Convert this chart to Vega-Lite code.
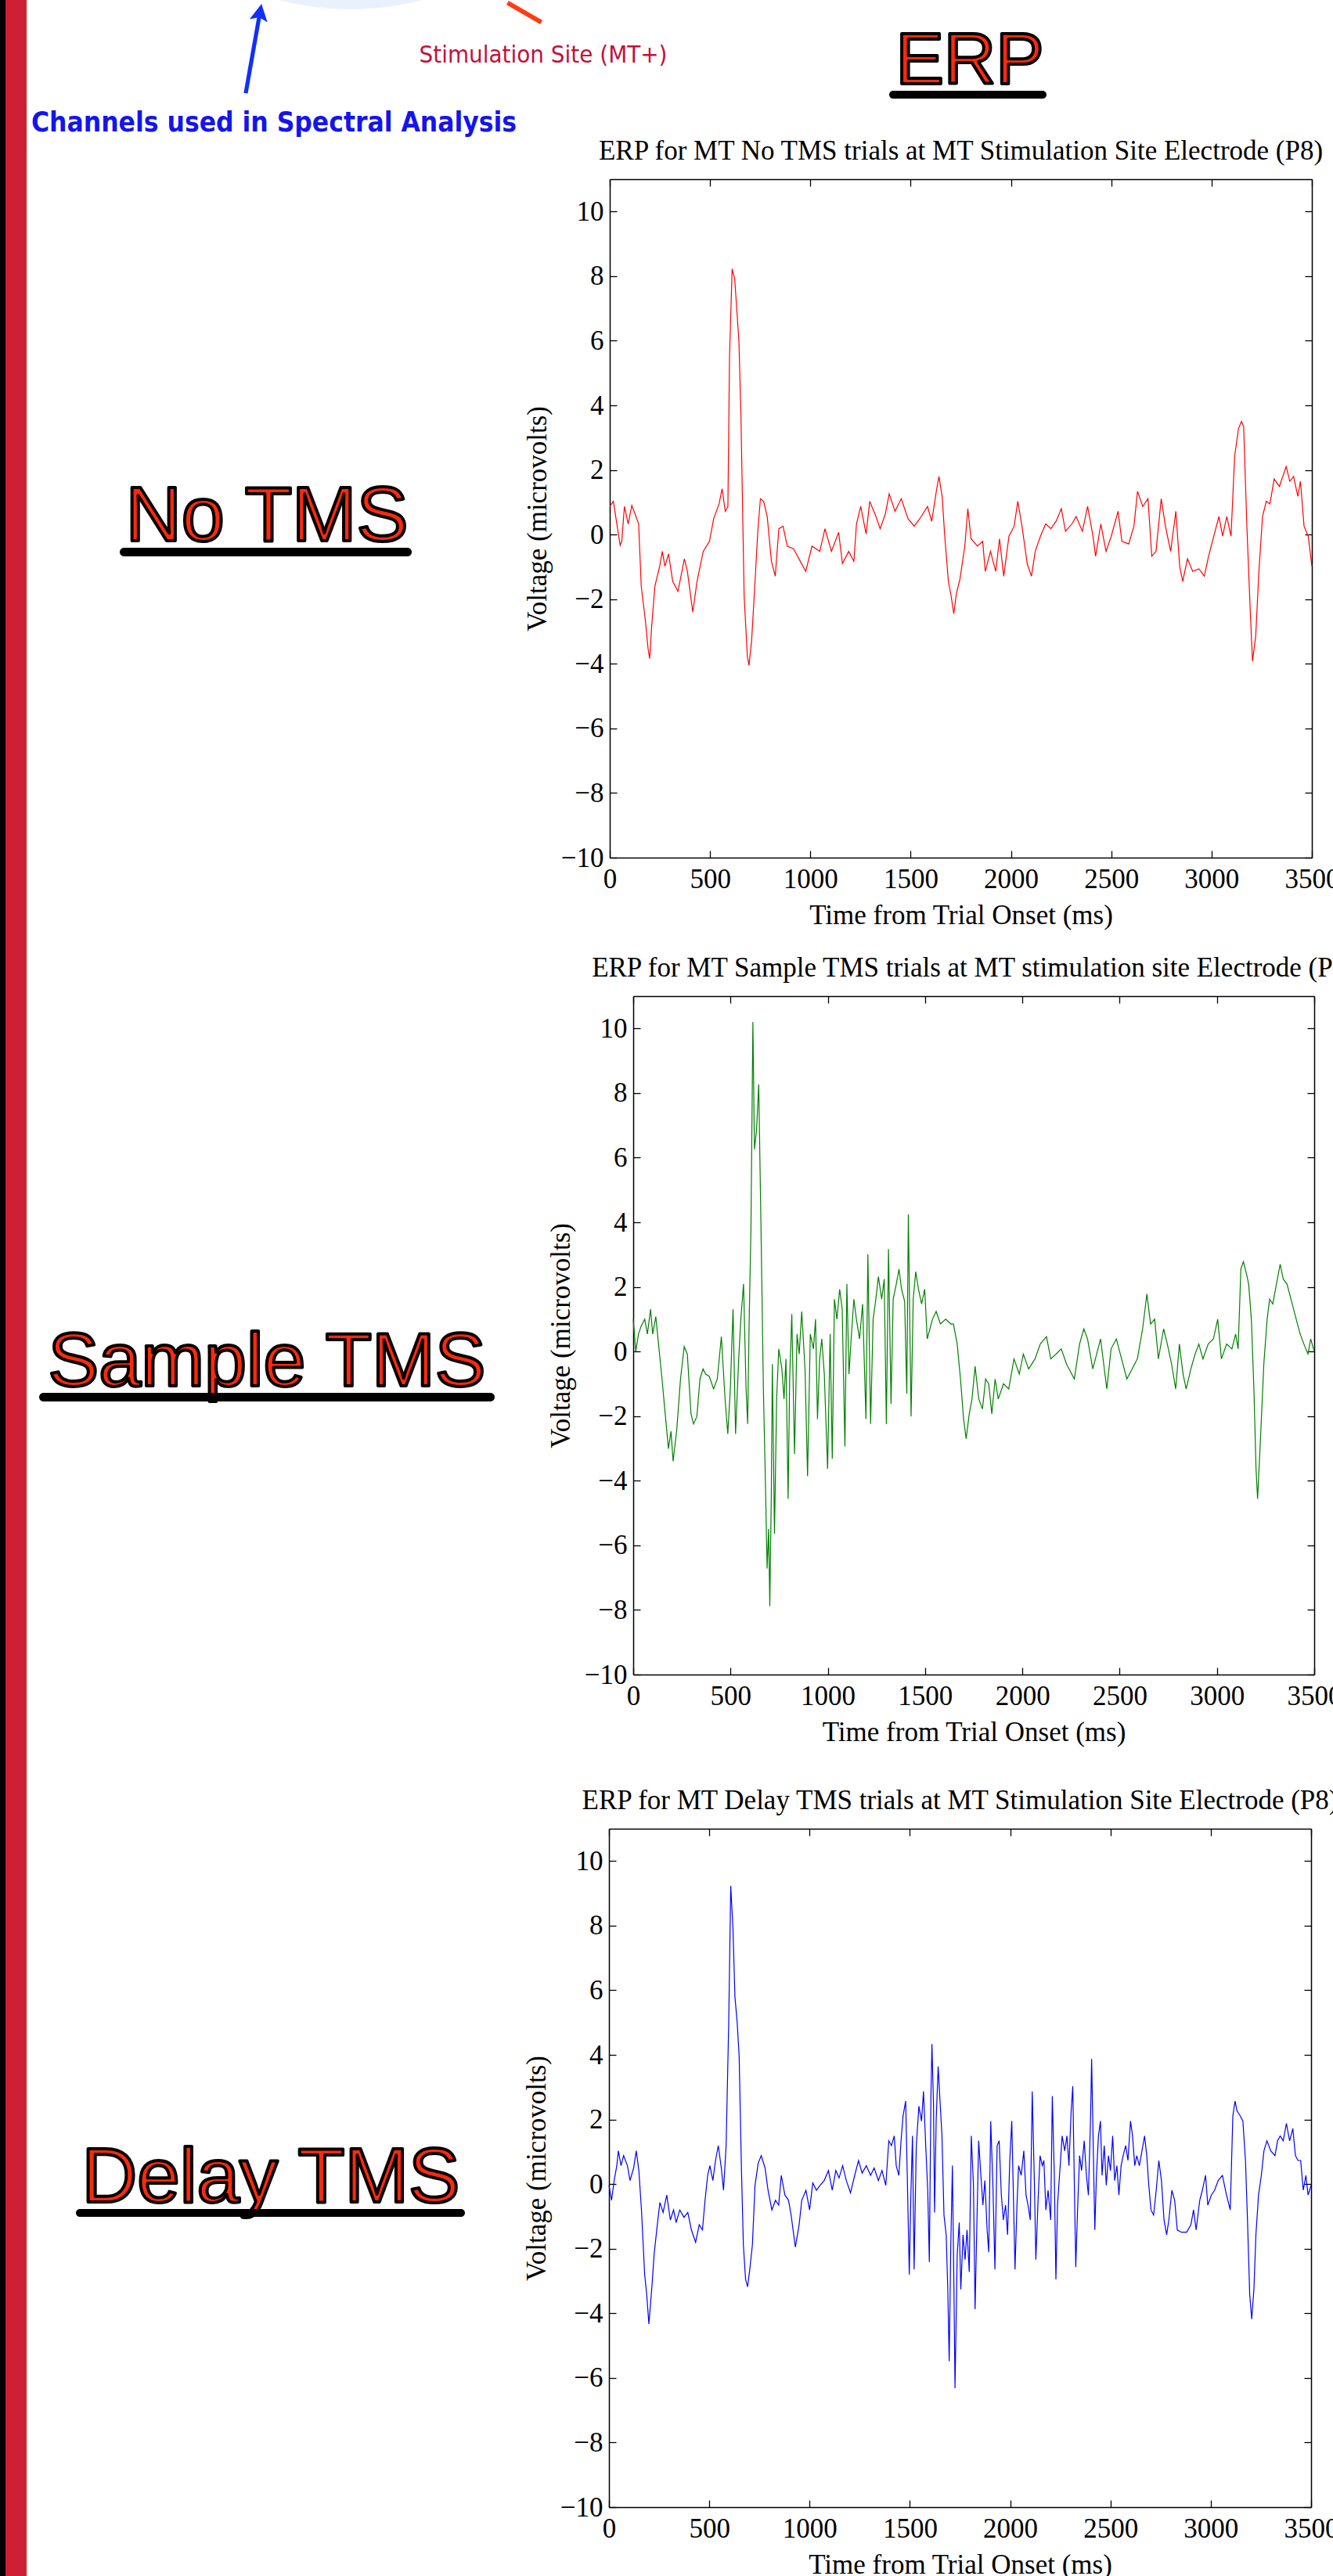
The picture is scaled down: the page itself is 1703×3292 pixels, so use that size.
{
"$schema": "https://vega.github.io/schema/vega-lite/v6.json",
"padding": 0,
"autosize": {"type": "pad"},
"background": "white",
"config": {
  "view": {"stroke": null},
  "axis": {"labelFont": "Liberation Serif", "titleFont": "Liberation Serif", "labelFontSize": 35, "titleFontSize": 35, "labelColor": "black", "titleColor": "black", "titleFontWeight": "normal", "domainColor": "black", "domainWidth": 1.5, "tickColor": "black", "tickWidth": 1.3, "tickSize": -9, "grid": false, "labelFlush": false, "labelOverlap": false, "format": "d"},
  "title": {"font": "Liberation Serif", "fontSize": 35, "fontWeight": "normal", "color": "black", "baseline": "alphabetic", "offset": 17, "anchor": "middle"}
},
"datasets": {
"red": [{"t":0,"v":0.87},{"t":18,"v":1.03},{"t":39,"v":0.18},{"t":52,"v":-0.33},{"t":60,"v":-0.21},{"t":73,"v":0.87},{"t":92,"v":0.33},{"t":110,"v":0.9},{"t":126,"v":0.64},{"t":144,"v":0.33},{"t":157,"v":-1.6},{"t":178,"v":-2.68},{"t":191,"v":-3.53},{"t":199,"v":-3.84},{"t":209,"v":-2.84},{"t":225,"v":-1.6},{"t":249,"v":-0.98},{"t":262,"v":-0.52},{"t":275,"v":-0.98},{"t":293,"v":-0.6},{"t":314,"v":-1.45},{"t":340,"v":-1.76},{"t":372,"v":-0.75},{"t":387,"v":-1.14},{"t":414,"v":-2.4},{"t":435,"v":-1.45},{"t":466,"v":-0.52},{"t":497,"v":-0.21},{"t":518,"v":0.49},{"t":545,"v":0.95},{"t":560,"v":1.42},{"t":576,"v":0.72},{"t":589,"v":0.87},{"t":597,"v":5.51},{"t":610,"v":8.22},{"t":623,"v":7.91},{"t":634,"v":6.9},{"t":644,"v":5.98},{"t":654,"v":3.66},{"t":670,"v":-1.91},{"t":686,"v":-3.77},{"t":694,"v":-4.05},{"t":707,"v":-3.3},{"t":723,"v":-1.6},{"t":738,"v":0.1},{"t":751,"v":1.11},{"t":767,"v":1.03},{"t":785,"v":0.56},{"t":806,"v":-0.83},{"t":825,"v":-1.29},{"t":843,"v":0.18},{"t":864,"v":0.26},{"t":885,"v":-0.36},{"t":916,"v":-0.44},{"t":950,"v":-0.83},{"t":977,"v":-1.14},{"t":1008,"v":-0.36},{"t":1047,"v":-0.52},{"t":1073,"v":0.18},{"t":1105,"v":-0.52},{"t":1141,"v":0.07},{"t":1160,"v":-0.9},{"t":1191,"v":-0.52},{"t":1217,"v":-0.83},{"t":1230,"v":0.33},{"t":1251,"v":0.87},{"t":1278,"v":0.02},{"t":1296,"v":1.03},{"t":1327,"v":0.56},{"t":1348,"v":0.18},{"t":1374,"v":0.64},{"t":1393,"v":1.26},{"t":1422,"v":0.72},{"t":1453,"v":1.11},{"t":1487,"v":0.49},{"t":1518,"v":0.26},{"t":1553,"v":0.56},{"t":1584,"v":0.87},{"t":1605,"v":0.41},{"t":1628,"v":1.34},{"t":1641,"v":1.8},{"t":1657,"v":1.18},{"t":1670,"v":-0.05},{"t":1688,"v":-1.45},{"t":1702,"v":-1.91},{"t":1715,"v":-2.45},{"t":1728,"v":-1.83},{"t":1746,"v":-1.37},{"t":1770,"v":-0.36},{"t":1785,"v":0.8},{"t":1801,"v":-0.13},{"t":1833,"v":-0.36},{"t":1859,"v":-0.21},{"t":1872,"v":-1.14},{"t":1898,"v":-0.52},{"t":1924,"v":-1.14},{"t":1943,"v":-0.13},{"t":1964,"v":-1.29},{"t":1990,"v":-0.05},{"t":2016,"v":0.26},{"t":2034,"v":1.03},{"t":2055,"v":0.26},{"t":2081,"v":-0.9},{"t":2102,"v":-1.29},{"t":2121,"v":-0.52},{"t":2147,"v":-0.05},{"t":2173,"v":0.33},{"t":2199,"v":0.18},{"t":2225,"v":0.41},{"t":2251,"v":0.8},{"t":2272,"v":0.1},{"t":2304,"v":0.33},{"t":2325,"v":0.56},{"t":2356,"v":0.1},{"t":2382,"v":0.87},{"t":2409,"v":-0.05},{"t":2422,"v":-0.67},{"t":2448,"v":0.33},{"t":2474,"v":-0.52},{"t":2500,"v":-0.05},{"t":2534,"v":0.72},{"t":2553,"v":-0.21},{"t":2587,"v":-0.29},{"t":2613,"v":0.26},{"t":2631,"v":1.34},{"t":2657,"v":0.87},{"t":2683,"v":1.11},{"t":2702,"v":-0.67},{"t":2723,"v":-0.52},{"t":2749,"v":1.11},{"t":2770,"v":0.26},{"t":2796,"v":-0.52},{"t":2822,"v":0.72},{"t":2841,"v":-0.98},{"t":2856,"v":-1.45},{"t":2880,"v":-0.75},{"t":2906,"v":-1.14},{"t":2937,"v":-1.06},{"t":2964,"v":-1.29},{"t":2985,"v":-0.67},{"t":3011,"v":-0.05},{"t":3037,"v":0.56},{"t":3055,"v":-0.05},{"t":3076,"v":0.56},{"t":3097,"v":-0.05},{"t":3115,"v":2.42},{"t":3134,"v":3.27},{"t":3149,"v":3.5},{"t":3160,"v":3.35},{"t":3176,"v":0.26},{"t":3194,"v":-2.53},{"t":3204,"v":-3.92},{"t":3220,"v":-3.15},{"t":3236,"v":-1.14},{"t":3254,"v":0.56},{"t":3273,"v":1.03},{"t":3291,"v":0.95},{"t":3312,"v":1.72},{"t":3338,"v":1.49},{"t":3372,"v":2.11},{"t":3390,"v":1.65},{"t":3409,"v":1.8},{"t":3430,"v":1.18},{"t":3443,"v":1.65},{"t":3461,"v":0.26},{"t":3482,"v":-0.05},{"t":3500,"v":-0.98}],
"green": [{"t":0,"v":1.0},{"t":13,"v":0.0},{"t":27,"v":0.54},{"t":40,"v":0.77},{"t":59,"v":1.0},{"t":73,"v":0.54},{"t":89,"v":1.31},{"t":100,"v":0.54},{"t":116,"v":1.08},{"t":130,"v":0.23},{"t":148,"v":-0.85},{"t":162,"v":-1.78},{"t":181,"v":-3.01},{"t":194,"v":-2.47},{"t":205,"v":-3.4},{"t":224,"v":-2.4},{"t":243,"v":-0.85},{"t":262,"v":0.15},{"t":278,"v":-0.08},{"t":297,"v":-1.93},{"t":310,"v":-2.24},{"t":327,"v":-2.01},{"t":343,"v":-0.85},{"t":359,"v":-0.54},{"t":372,"v":-0.7},{"t":391,"v":-0.77},{"t":413,"v":-1.16},{"t":432,"v":-0.85},{"t":453,"v":0.46},{"t":472,"v":-1.47},{"t":486,"v":-2.55},{"t":499,"v":-1.16},{"t":513,"v":1.31},{"t":526,"v":-2.55},{"t":542,"v":-0.23},{"t":553,"v":1.0},{"t":567,"v":2.09},{"t":580,"v":-1.16},{"t":588,"v":-2.24},{"t":596,"v":1.0},{"t":605,"v":3.79},{"t":615,"v":10.2},{"t":623,"v":6.26},{"t":634,"v":6.88},{"t":645,"v":8.27},{"t":656,"v":4.1},{"t":669,"v":-1.16},{"t":680,"v":-4.25},{"t":688,"v":-6.72},{"t":696,"v":-5.49},{"t":702,"v":-7.88},{"t":710,"v":-4.25},{"t":715,"v":-0.39},{"t":726,"v":-5.64},{"t":737,"v":-1.47},{"t":748,"v":0.08},{"t":764,"v":-0.54},{"t":775,"v":-1.47},{"t":785,"v":-0.23},{"t":796,"v":-4.56},{"t":804,"v":-0.85},{"t":815,"v":1.16},{"t":829,"v":-3.17},{"t":842,"v":0.54},{"t":853,"v":-0.08},{"t":866,"v":1.24},{"t":883,"v":-0.54},{"t":896,"v":-3.86},{"t":910,"v":0.54},{"t":926,"v":0.08},{"t":937,"v":1.0},{"t":947,"v":-2.09},{"t":958,"v":-0.23},{"t":969,"v":0.39},{"t":982,"v":-0.7},{"t":999,"v":-3.63},{"t":1012,"v":0.54},{"t":1023,"v":-3.32},{"t":1034,"v":1.62},{"t":1047,"v":1.0},{"t":1061,"v":1.93},{"t":1074,"v":1.31},{"t":1088,"v":-2.94},{"t":1098,"v":2.09},{"t":1109,"v":-0.7},{"t":1120,"v":0.39},{"t":1134,"v":1.62},{"t":1147,"v":1.0},{"t":1163,"v":0.39},{"t":1179,"v":1.47},{"t":1196,"v":-2.09},{"t":1206,"v":3.01},{"t":1220,"v":-2.24},{"t":1233,"v":1.0},{"t":1247,"v":1.62},{"t":1260,"v":2.32},{"t":1277,"v":1.62},{"t":1290,"v":2.24},{"t":1301,"v":-2.24},{"t":1312,"v":3.17},{"t":1325,"v":-1.62},{"t":1336,"v":1.62},{"t":1352,"v":2.09},{"t":1366,"v":2.55},{"t":1379,"v":1.93},{"t":1395,"v":1.55},{"t":1406,"v":-1.31},{"t":1414,"v":4.25},{"t":1428,"v":-2.01},{"t":1439,"v":1.62},{"t":1452,"v":2.47},{"t":1466,"v":1.93},{"t":1482,"v":1.47},{"t":1498,"v":1.93},{"t":1511,"v":0.39},{"t":1525,"v":0.7},{"t":1538,"v":1.0},{"t":1557,"v":1.24},{"t":1579,"v":0.85},{"t":1606,"v":1.0},{"t":1633,"v":0.85},{"t":1646,"v":0.85},{"t":1665,"v":0.23},{"t":1682,"v":-0.85},{"t":1698,"v":-2.09},{"t":1711,"v":-2.7},{"t":1727,"v":-1.93},{"t":1741,"v":-1.47},{"t":1757,"v":-0.46},{"t":1776,"v":-1.47},{"t":1795,"v":-1.78},{"t":1811,"v":-0.85},{"t":1827,"v":-1.0},{"t":1843,"v":-1.93},{"t":1860,"v":-0.85},{"t":1876,"v":-1.47},{"t":1903,"v":-1.0},{"t":1930,"v":-1.16},{"t":1957,"v":-0.23},{"t":1984,"v":-0.7},{"t":2005,"v":-0.08},{"t":2032,"v":-0.54},{"t":2065,"v":-0.23},{"t":2092,"v":0.23},{"t":2124,"v":0.46},{"t":2146,"v":-0.23},{"t":2173,"v":-0.08},{"t":2200,"v":0.08},{"t":2227,"v":-0.39},{"t":2267,"v":-0.85},{"t":2294,"v":0.23},{"t":2316,"v":0.7},{"t":2335,"v":0.39},{"t":2362,"v":-0.54},{"t":2402,"v":0.39},{"t":2434,"v":-1.16},{"t":2456,"v":0.08},{"t":2483,"v":0.39},{"t":2510,"v":-0.23},{"t":2537,"v":-0.85},{"t":2564,"v":-0.54},{"t":2591,"v":-0.23},{"t":2618,"v":0.7},{"t":2640,"v":1.78},{"t":2659,"v":0.85},{"t":2680,"v":1.0},{"t":2699,"v":-0.23},{"t":2726,"v":0.7},{"t":2745,"v":0.23},{"t":2767,"v":-0.39},{"t":2788,"v":-1.16},{"t":2807,"v":0.23},{"t":2826,"v":-0.7},{"t":2842,"v":-1.16},{"t":2866,"v":-0.54},{"t":2888,"v":-0.08},{"t":2907,"v":0.23},{"t":2928,"v":-0.23},{"t":2955,"v":0.23},{"t":2982,"v":0.39},{"t":3004,"v":1.0},{"t":3023,"v":-0.23},{"t":3050,"v":0.23},{"t":3077,"v":0.08},{"t":3096,"v":0.54},{"t":3109,"v":0.08},{"t":3123,"v":2.55},{"t":3136,"v":2.78},{"t":3152,"v":2.4},{"t":3163,"v":2.09},{"t":3177,"v":1.0},{"t":3190,"v":-1.16},{"t":3201,"v":-3.63},{"t":3209,"v":-4.56},{"t":3225,"v":-2.55},{"t":3241,"v":-0.39},{"t":3258,"v":1.0},{"t":3271,"v":1.62},{"t":3287,"v":1.47},{"t":3306,"v":2.09},{"t":3325,"v":2.7},{"t":3341,"v":2.24},{"t":3360,"v":2.09},{"t":3387,"v":1.47},{"t":3414,"v":0.85},{"t":3428,"v":0.54},{"t":3447,"v":0.23},{"t":3468,"v":-0.08},{"t":3482,"v":0.39},{"t":3500,"v":0.0}],
"blue": [{"t":0,"v":-0.04},{"t":13,"v":-0.5},{"t":26,"v":0.11},{"t":39,"v":0.57},{"t":47,"v":1.03},{"t":60,"v":0.57},{"t":73,"v":0.88},{"t":92,"v":0.57},{"t":105,"v":0.11},{"t":123,"v":0.5},{"t":136,"v":1.03},{"t":149,"v":0.42},{"t":162,"v":-0.8},{"t":178,"v":-2.8},{"t":188,"v":-3.41},{"t":199,"v":-4.33},{"t":215,"v":-3.1},{"t":225,"v":-2.18},{"t":241,"v":-1.26},{"t":254,"v":-0.57},{"t":270,"v":-0.88},{"t":288,"v":-0.34},{"t":306,"v":-1.11},{"t":322,"v":-0.8},{"t":335,"v":-1.19},{"t":353,"v":-0.8},{"t":374,"v":-1.03},{"t":393,"v":-0.88},{"t":411,"v":-1.42},{"t":432,"v":-1.8},{"t":450,"v":-1.26},{"t":466,"v":-1.42},{"t":479,"v":-0.5},{"t":492,"v":0.27},{"t":503,"v":0.57},{"t":518,"v":0.11},{"t":531,"v":0.73},{"t":545,"v":1.19},{"t":560,"v":0.5},{"t":571,"v":-0.19},{"t":584,"v":1.19},{"t":597,"v":5.02},{"t":607,"v":9.23},{"t":618,"v":7.93},{"t":628,"v":5.79},{"t":639,"v":5.02},{"t":649,"v":3.95},{"t":660,"v":0.57},{"t":670,"v":-1.88},{"t":681,"v":-2.95},{"t":691,"v":-3.18},{"t":702,"v":-2.64},{"t":715,"v":-1.88},{"t":728,"v":-0.04},{"t":744,"v":0.65},{"t":759,"v":0.88},{"t":778,"v":0.5},{"t":793,"v":-0.19},{"t":812,"v":-0.8},{"t":830,"v":-0.5},{"t":846,"v":-0.65},{"t":859,"v":0.27},{"t":877,"v":-0.34},{"t":895,"v":-0.5},{"t":908,"v":-0.96},{"t":929,"v":-1.95},{"t":948,"v":-1.26},{"t":961,"v":-0.5},{"t":982,"v":-0.19},{"t":1000,"v":-0.8},{"t":1016,"v":0.04},{"t":1034,"v":-0.19},{"t":1052,"v":-0.04},{"t":1073,"v":0.11},{"t":1094,"v":0.42},{"t":1113,"v":-0.19},{"t":1131,"v":0.42},{"t":1147,"v":0.19},{"t":1165,"v":0.57},{"t":1183,"v":0.11},{"t":1204,"v":-0.27},{"t":1225,"v":0.27},{"t":1244,"v":0.73},{"t":1262,"v":0.34},{"t":1283,"v":0.57},{"t":1304,"v":0.27},{"t":1322,"v":0.5},{"t":1343,"v":0.11},{"t":1361,"v":0.42},{"t":1380,"v":-0.04},{"t":1395,"v":1.34},{"t":1408,"v":1.19},{"t":1422,"v":1.49},{"t":1432,"v":0.57},{"t":1445,"v":0.27},{"t":1456,"v":1.34},{"t":1466,"v":2.11},{"t":1479,"v":2.57},{"t":1487,"v":0.27},{"t":1497,"v":-2.8},{"t":1505,"v":-0.34},{"t":1513,"v":1.49},{"t":1521,"v":-2.64},{"t":1532,"v":1.19},{"t":1545,"v":2.41},{"t":1558,"v":1.95},{"t":1568,"v":2.87},{"t":1579,"v":1.19},{"t":1589,"v":-0.19},{"t":1597,"v":-2.41},{"t":1605,"v":2.72},{"t":1610,"v":4.33},{"t":1618,"v":2.41},{"t":1623,"v":-0.88},{"t":1631,"v":1.95},{"t":1641,"v":3.64},{"t":1649,"v":2.72},{"t":1660,"v":1.49},{"t":1670,"v":-0.96},{"t":1681,"v":-1.57},{"t":1689,"v":-3.26},{"t":1696,"v":-5.48},{"t":1704,"v":-1.88},{"t":1712,"v":0.57},{"t":1720,"v":-3.41},{"t":1725,"v":-6.32},{"t":1736,"v":-2.18},{"t":1746,"v":-1.19},{"t":1754,"v":-3.26},{"t":1765,"v":-1.57},{"t":1775,"v":-2.34},{"t":1785,"v":-1.42},{"t":1796,"v":-2.72},{"t":1806,"v":1.49},{"t":1817,"v":-0.04},{"t":1825,"v":-3.87},{"t":1835,"v":-0.96},{"t":1843,"v":1.34},{"t":1854,"v":0.27},{"t":1864,"v":-0.65},{"t":1874,"v":0.11},{"t":1885,"v":-1.42},{"t":1893,"v":-2.11},{"t":1903,"v":1.95},{"t":1914,"v":-0.04},{"t":1924,"v":-2.64},{"t":1935,"v":1.19},{"t":1945,"v":1.34},{"t":1956,"v":-0.34},{"t":1966,"v":-1.11},{"t":1977,"v":-0.65},{"t":1987,"v":-1.57},{"t":1998,"v":0.73},{"t":2008,"v":1.95},{"t":2016,"v":-0.34},{"t":2024,"v":-2.64},{"t":2034,"v":-0.65},{"t":2042,"v":0.57},{"t":2055,"v":0.27},{"t":2068,"v":1.03},{"t":2079,"v":-0.34},{"t":2089,"v":-0.65},{"t":2100,"v":-1.11},{"t":2110,"v":2.87},{"t":2121,"v":-0.04},{"t":2128,"v":-2.34},{"t":2139,"v":-0.5},{"t":2149,"v":0.88},{"t":2160,"v":0.57},{"t":2168,"v":0.73},{"t":2178,"v":-0.8},{"t":2189,"v":-0.19},{"t":2202,"v":-1.11},{"t":2210,"v":2.72},{"t":2220,"v":0.27},{"t":2228,"v":-2.95},{"t":2236,"v":-0.65},{"t":2246,"v":0.27},{"t":2259,"v":1.49},{"t":2272,"v":1.03},{"t":2283,"v":1.49},{"t":2293,"v":0.57},{"t":2304,"v":2.26},{"t":2312,"v":3.03},{"t":2320,"v":-0.04},{"t":2327,"v":-2.57},{"t":2335,"v":-0.96},{"t":2346,"v":0.88},{"t":2356,"v":0.42},{"t":2369,"v":1.34},{"t":2380,"v":0.27},{"t":2390,"v":-0.34},{"t":2401,"v":2.11},{"t":2406,"v":3.87},{"t":2414,"v":1.19},{"t":2422,"v":-1.42},{"t":2430,"v":0.27},{"t":2440,"v":1.49},{"t":2450,"v":1.95},{"t":2458,"v":0.27},{"t":2469,"v":1.19},{"t":2479,"v":-0.04},{"t":2490,"v":0.88},{"t":2500,"v":0.42},{"t":2511,"v":1.49},{"t":2521,"v":0.11},{"t":2532,"v":0.57},{"t":2542,"v":-0.34},{"t":2553,"v":0.57},{"t":2563,"v":0.88},{"t":2576,"v":1.19},{"t":2587,"v":0.73},{"t":2600,"v":1.95},{"t":2610,"v":1.49},{"t":2621,"v":0.57},{"t":2631,"v":0.88},{"t":2644,"v":0.57},{"t":2657,"v":1.03},{"t":2670,"v":1.49},{"t":2681,"v":0.88},{"t":2691,"v":-0.04},{"t":2702,"v":-0.8},{"t":2715,"v":-0.96},{"t":2728,"v":-0.19},{"t":2741,"v":0.73},{"t":2754,"v":0.11},{"t":2767,"v":-1.11},{"t":2780,"v":-1.57},{"t":2791,"v":-1.11},{"t":2806,"v":-0.19},{"t":2820,"v":-0.5},{"t":2833,"v":-1.42},{"t":2854,"v":-1.49},{"t":2880,"v":-1.49},{"t":2901,"v":-1.26},{"t":2914,"v":-0.8},{"t":2927,"v":-1.42},{"t":2945,"v":-0.5},{"t":2958,"v":-0.19},{"t":2974,"v":0.27},{"t":2985,"v":-0.65},{"t":3003,"v":-0.34},{"t":3019,"v":-0.19},{"t":3037,"v":0.11},{"t":3058,"v":0.27},{"t":3076,"v":-0.27},{"t":3097,"v":-0.8},{"t":3110,"v":2.11},{"t":3121,"v":2.57},{"t":3131,"v":2.26},{"t":3147,"v":2.11},{"t":3160,"v":1.95},{"t":3173,"v":0.73},{"t":3183,"v":-1.11},{"t":3194,"v":-3.41},{"t":3204,"v":-4.18},{"t":3215,"v":-3.26},{"t":3225,"v":-1.57},{"t":3238,"v":-0.34},{"t":3252,"v":0.27},{"t":3265,"v":1.03},{"t":3280,"v":1.34},{"t":3299,"v":1.03},{"t":3320,"v":0.88},{"t":3333,"v":1.34},{"t":3346,"v":1.49},{"t":3361,"v":1.34},{"t":3377,"v":1.88},{"t":3393,"v":1.34},{"t":3409,"v":1.72},{"t":3422,"v":0.88},{"t":3435,"v":0.73},{"t":3448,"v":0.73},{"t":3461,"v":-0.19},{"t":3474,"v":0.27},{"t":3485,"v":-0.34},{"t":3500,"v":-0.04}]
},
"spacing": 0,
"bounds": "flush",
"vconcat": [
  {"hconcat": [
    {"width": 7, "height": 3292, "view": {"fill": "black"}, "data": {"values": []}, "mark": "point"},
    {"width": 27, "height": 3292, "view": {"fill": "#cf1f35"}, "data": {"values": []}, "mark": "point"}
  ], "spacing": 0, "bounds": "flush"},

  {"hconcat": [
    {"width": 447, "height": 1, "data": {"values": []}, "mark": "point"},
    {"width": 2, "height": 12, "data": {"values": [{"k": "head"}]}, "mark": {"type": "point", "shape": "M-1,-0.065Q0,0.195,1,-0.065Z", "size": 33856, "filled": true, "fill": "#e9f2fc", "opacity": 1, "strokeWidth": 0}, "encoding": {}}
  ], "spacing": 0, "bounds": "flush"},

  {"hconcat": [
    {"width": 34, "height": 1, "data": {"values": []}, "mark": "point"},
    {"width": 580, "height": 124, "data": {"values": [{"k": "arrow"}]}, "mark": {"type": "point", "shape": "M0,-1L0.2,-0.62L0.045,-0.68L0.045,1L-0.045,1L-0.045,-0.68L-0.2,-0.62Z", "size": 13456, "angle": 10, "filled": true, "fill": "#1030ff", "opacity": 1, "strokeWidth": 0}, "encoding": {}}
  ], "spacing": 0, "bounds": "flush"},

  {"hconcat": [
    {"width": 614, "height": 1, "data": {"values": []}, "mark": "point"},
    {"width": 112, "height": 32, "data": {"values": [{"k": "line"}]}, "mark": {"type": "point", "shape": "M-1,-0.12L1,-0.12L1,0.12L-1,0.12Z", "size": 2500, "angle": 30, "filled": true, "fill": "#ff3c14", "opacity": 1, "strokeWidth": 0}, "encoding": {}}
  ], "spacing": 0, "bounds": "flush"},

  {"hconcat": [
    {"width": 39, "height": 1, "data": {"values": []}, "mark": "point"},
    {"vconcat": [
      {"width": 1, "height": 167, "data": {"values": []}, "mark": "point"},
      {"width": 2, "height": 2, "data": {"values": [{"label": "Channels used in Spectral Analysis"}]}, "mark": {"type": "text", "font": "DejaVu Sans Condensed, sans-serif", "fontSize": 35, "fontWeight": "bold", "fill": "#1414ee", "align": "left", "baseline": "alphabetic"}, "encoding": {"text": {"field": "label"}}}
    ], "spacing": 0, "bounds": "flush"}
  ], "spacing": 0, "bounds": "flush"},

  {"hconcat": [
    {"width": 693, "height": 1, "data": {"values": []}, "mark": "point"},
    {"vconcat": [
      {"width": 1, "height": 79, "data": {"values": []}, "mark": "point"},
      {"width": 2, "height": 2, "data": {"values": [{"label": "Stimulation Site (MT+)"}]}, "mark": {"type": "text", "font": "DejaVu Sans Condensed, sans-serif", "fontSize": 31, "fill": "#c4103c", "align": "center", "baseline": "alphabetic"}, "encoding": {"text": {"field": "label"}}}
    ], "spacing": 0, "bounds": "flush"}
  ], "spacing": 0, "bounds": "flush"},

  {"hconcat": [
    {"width": 1238, "height": 1, "data": {"values": []}, "mark": "point"},
    {"vconcat": [
      {"width": 1, "height": 106, "data": {"values": []}, "mark": "point"},
      {"width": 2, "height": 2, "data": {"values": [{"label": "ERP"}]}, "mark": {"type": "text", "font": "Liberation Sans", "fontSize": 92, "fill": "#fa2a0a", "stroke": "black", "strokeWidth": 4, "strokeJoin": "round", "align": "center", "baseline": "alphabetic"}, "encoding": {"text": {"field": "label"}}}
    ], "spacing": 0, "bounds": "flush"}
  ], "spacing": 0, "bounds": "flush"},

  {"hconcat": [
    {"width": 1136, "height": 1, "data": {"values": []}, "mark": "point"},
    {"vconcat": [
      {"width": 1, "height": 116, "data": {"values": []}, "mark": "point"},
      {"width": 201, "height": 10, "view": {"fill": "black", "cornerRadius": 5}, "data": {"values": []}, "mark": "point"}
    ], "spacing": 0, "bounds": "flush"}
  ], "spacing": 0, "bounds": "flush"},

  {"hconcat": [
    {"width": 340, "height": 1, "data": {"values": []}, "mark": "point"},
    {"vconcat": [
      {"width": 1, "height": 690, "data": {"values": []}, "mark": "point"},
      {"width": 2, "height": 2, "data": {"values": [{"label": "No TMS"}]}, "mark": {"type": "text", "font": "Liberation Sans", "fontSize": 99, "fill": "#fa2a0a", "stroke": "black", "strokeWidth": 4, "strokeJoin": "round", "align": "center", "baseline": "alphabetic"}, "encoding": {"text": {"field": "label"}}}
    ], "spacing": 0, "bounds": "flush"}
  ], "spacing": 0, "bounds": "flush"},

  {"hconcat": [
    {"width": 153, "height": 1, "data": {"values": []}, "mark": "point"},
    {"vconcat": [
      {"width": 1, "height": 700, "data": {"values": []}, "mark": "point"},
      {"width": 373, "height": 11, "view": {"fill": "black", "cornerRadius": 5.5}, "data": {"values": []}, "mark": "point"}
    ], "spacing": 0, "bounds": "flush"}
  ], "spacing": 0, "bounds": "flush"},

  {"hconcat": [
    {"width": 340, "height": 1, "data": {"values": []}, "mark": "point"},
    {"vconcat": [
      {"width": 1, "height": 1770, "data": {"values": []}, "mark": "point"},
      {"width": 2, "height": 2, "data": {"values": [{"label": "Sample TMS"}]}, "mark": {"type": "text", "font": "Liberation Sans", "fontSize": 97, "fill": "#fa2a0a", "stroke": "black", "strokeWidth": 4, "strokeJoin": "round", "align": "center", "baseline": "alphabetic"}, "encoding": {"text": {"field": "label"}}}
    ], "spacing": 0, "bounds": "flush"}
  ], "spacing": 0, "bounds": "flush"},

  {"hconcat": [
    {"width": 50, "height": 1, "data": {"values": []}, "mark": "point"},
    {"vconcat": [
      {"width": 1, "height": 1780, "data": {"values": []}, "mark": "point"},
      {"width": 582, "height": 11, "view": {"fill": "black", "cornerRadius": 5.5}, "data": {"values": []}, "mark": "point"}
    ], "spacing": 0, "bounds": "flush"}
  ], "spacing": 0, "bounds": "flush"},

  {"hconcat": [
    {"width": 345, "height": 1, "data": {"values": []}, "mark": "point"},
    {"vconcat": [
      {"width": 1, "height": 2813, "data": {"values": []}, "mark": "point"},
      {"width": 2, "height": 2, "data": {"values": [{"label": "Delay TMS"}]}, "mark": {"type": "text", "font": "Liberation Sans", "fontSize": 98, "fill": "#fa2a0a", "stroke": "black", "strokeWidth": 4, "strokeJoin": "round", "align": "center", "baseline": "alphabetic"}, "encoding": {"text": {"field": "label"}}}
    ], "spacing": 0, "bounds": "flush"}
  ], "spacing": 0, "bounds": "flush"},

  {"hconcat": [
    {"width": 97, "height": 1, "data": {"values": []}, "mark": "point"},
    {"vconcat": [
      {"width": 1, "height": 2823, "data": {"values": []}, "mark": "point"},
      {"width": 497, "height": 10, "view": {"fill": "black", "cornerRadius": 5}, "data": {"values": []}, "mark": "point"}
    ], "spacing": 0, "bounds": "flush"}
  ], "spacing": 0, "bounds": "flush"},

  {"hconcat": [
    {"width": 779, "height": 1, "data": {"values": []}, "mark": "point"},
    {"vconcat": [
      {"width": 1, "height": 229, "data": {"values": []}, "mark": "point"},
      {"width": 897, "height": 867, "data": {"name": "red"},
       "title": {"text": "ERP for MT No TMS trials at MT Stimulation Site Electrode (P8)"},
       "layer": [
         {"mark": {"type": "line", "color": "#ff0000", "strokeWidth": 1.2},
          "encoding": {
            "x": {"field": "t", "type": "quantitative", "scale": {"domain": [0, 3500], "nice": false, "zero": false}, "axis": {"orient": "bottom", "values": [0,500,1000,1500,2000,2500,3000,3500], "title": "Time from Trial Onset (ms)", "labelPadding": 19, "titleBaseline": "alphabetic", "titleY": 84}},
            "y": {"field": "v", "type": "quantitative", "scale": {"domain": [-10, 11], "nice": false, "zero": false}, "axis": {"orient": "left", "values": [-10,-8,-6,-4,-2,0,2,4,6,8,10], "title": "Voltage (microvolts)", "labelPadding": 17, "titleBaseline": "alphabetic", "titleX": -82}}
          }},
         {"mark": {"type": "line", "strokeOpacity": 0},
          "encoding": {
            "x": {"field": "t", "type": "quantitative", "scale": {"domain": [0, 3500], "nice": false, "zero": false}, "axis": {"orient": "top", "values": [0,500,1000,1500,2000,2500,3000,3500], "labels": false, "title": null}},
            "y": {"field": "v", "type": "quantitative", "scale": {"domain": [-10, 11], "nice": false, "zero": false}, "axis": {"orient": "right", "values": [-10,-8,-6,-4,-2,0,2,4,6,8,10], "labels": false, "title": null}}
          }}
       ],
       "resolve": {"axis": {"x": "independent", "y": "independent"}}}
    ], "spacing": 0, "bounds": "flush"}
  ], "spacing": 0, "bounds": "flush"},

  {"hconcat": [
    {"width": 809, "height": 1, "data": {"values": []}, "mark": "point"},
    {"vconcat": [
      {"width": 1, "height": 1273, "data": {"values": []}, "mark": "point"},
      {"width": 870, "height": 867, "data": {"name": "green"},
       "title": {"text": "ERP for MT Sample TMS trials at MT stimulation site Electrode (P8)"},
       "layer": [
         {"mark": {"type": "line", "color": "#008000", "strokeWidth": 1.2},
          "encoding": {
            "x": {"field": "t", "type": "quantitative", "scale": {"domain": [0, 3500], "nice": false, "zero": false}, "axis": {"orient": "bottom", "values": [0,500,1000,1500,2000,2500,3000,3500], "title": "Time from Trial Onset (ms)", "labelPadding": 19, "titleBaseline": "alphabetic", "titleY": 84}},
            "y": {"field": "v", "type": "quantitative", "scale": {"domain": [-10, 11], "nice": false, "zero": false}, "axis": {"orient": "left", "values": [-10,-8,-6,-4,-2,0,2,4,6,8,10], "title": "Voltage (microvolts)", "labelPadding": 17, "titleBaseline": "alphabetic", "titleX": -82}}
          }},
         {"mark": {"type": "line", "strokeOpacity": 0},
          "encoding": {
            "x": {"field": "t", "type": "quantitative", "scale": {"domain": [0, 3500], "nice": false, "zero": false}, "axis": {"orient": "top", "values": [0,500,1000,1500,2000,2500,3000,3500], "labels": false, "title": null}},
            "y": {"field": "v", "type": "quantitative", "scale": {"domain": [-10, 11], "nice": false, "zero": false}, "axis": {"orient": "right", "values": [-10,-8,-6,-4,-2,0,2,4,6,8,10], "labels": false, "title": null}}
          }}
       ],
       "resolve": {"axis": {"x": "independent", "y": "independent"}}}
    ], "spacing": 0, "bounds": "flush"}
  ], "spacing": 0, "bounds": "flush"},

  {"hconcat": [
    {"width": 778, "height": 1, "data": {"values": []}, "mark": "point"},
    {"vconcat": [
      {"width": 1, "height": 2337, "data": {"values": []}, "mark": "point"},
      {"width": 897, "height": 867, "data": {"name": "blue"},
       "title": {"text": "ERP for MT Delay TMS trials at MT Stimulation Site Electrode (P8)"},
       "layer": [
         {"mark": {"type": "line", "color": "#0000ff", "strokeWidth": 1.2},
          "encoding": {
            "x": {"field": "t", "type": "quantitative", "scale": {"domain": [0, 3500], "nice": false, "zero": false}, "axis": {"orient": "bottom", "values": [0,500,1000,1500,2000,2500,3000,3500], "title": "Time from Trial Onset (ms)", "labelPadding": 19, "titleBaseline": "alphabetic", "titleY": 84}},
            "y": {"field": "v", "type": "quantitative", "scale": {"domain": [-10, 11], "nice": false, "zero": false}, "axis": {"orient": "left", "values": [-10,-8,-6,-4,-2,0,2,4,6,8,10], "title": "Voltage (microvolts)", "labelPadding": 17, "titleBaseline": "alphabetic", "titleX": -82}}
          }},
         {"mark": {"type": "line", "strokeOpacity": 0},
          "encoding": {
            "x": {"field": "t", "type": "quantitative", "scale": {"domain": [0, 3500], "nice": false, "zero": false}, "axis": {"orient": "top", "values": [0,500,1000,1500,2000,2500,3000,3500], "labels": false, "title": null}},
            "y": {"field": "v", "type": "quantitative", "scale": {"domain": [-10, 11], "nice": false, "zero": false}, "axis": {"orient": "right", "values": [-10,-8,-6,-4,-2,0,2,4,6,8,10], "labels": false, "title": null}}
          }}
       ],
       "resolve": {"axis": {"x": "independent", "y": "independent"}}}
    ], "spacing": 0, "bounds": "flush"}
  ], "spacing": 0, "bounds": "flush"}
]
}
